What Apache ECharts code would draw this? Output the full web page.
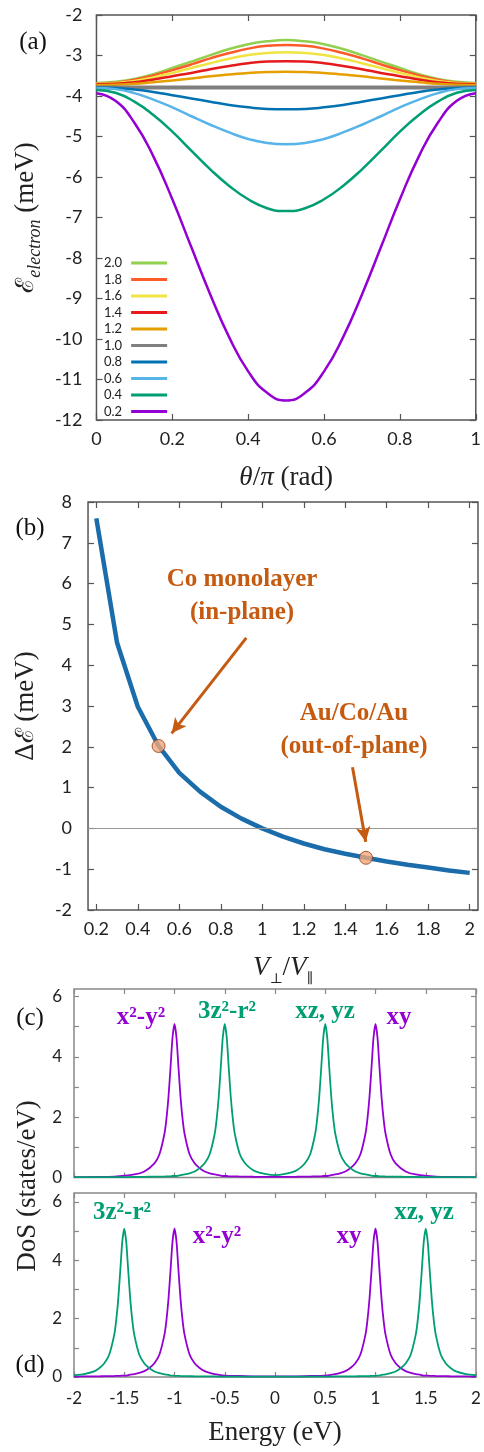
<!DOCTYPE html>
<html>
<head>
<meta charset="utf-8">
<script src="https://cdn.jsdelivr.net/npm/echarts@6/dist/echarts.min.js"></script>
<style>
    html, body {margin: 0; padding: 0; background: #fff;}
    #chart {width: 484px; height: 1452px;}
</style>
</head>
<body>
<div id="chart"></div>
<script>
// (a) electron energy vs theta/pi, one curve per V_perp/V_par ratio
var thetaPi = [0, 0.05, 0.1, 0.15, 0.2, 0.25, 0.3, 0.35, 0.4, 0.45, 0.5, 0.55, 0.6, 0.65, 0.7, 0.75, 0.8, 0.85, 0.9, 0.95, 1];
var e20 = [-3.68, -3.65, -3.58, -3.46, -3.31, -3.15, -2.99, -2.84, -2.72, -2.65, -2.62, -2.65, -2.72, -2.84, -2.99, -3.15, -3.31, -3.46, -3.58, -3.65, -3.68];
var e18 = [-3.69, -3.67, -3.60, -3.49, -3.36, -3.22, -3.07, -2.94, -2.83, -2.76, -2.74, -2.76, -2.83, -2.94, -3.07, -3.22, -3.36, -3.49, -3.60, -3.67, -3.69];
var e16 = [-3.70, -3.68, -3.63, -3.54, -3.43, -3.31, -3.19, -3.08, -2.99, -2.94, -2.92, -2.94, -2.99, -3.08, -3.19, -3.31, -3.43, -3.54, -3.63, -3.68, -3.70];
var e14 = [-3.71, -3.70, -3.66, -3.59, -3.51, -3.43, -3.34, -3.26, -3.19, -3.15, -3.14, -3.15, -3.19, -3.26, -3.34, -3.43, -3.51, -3.59, -3.66, -3.70, -3.71];
var e12 = [-3.73, -3.72, -3.70, -3.66, -3.62, -3.57, -3.51, -3.47, -3.43, -3.41, -3.40, -3.41, -3.43, -3.47, -3.51, -3.57, -3.62, -3.66, -3.70, -3.72, -3.73];
var e10 = [-3.79, -3.79, -3.79, -3.79, -3.79, -3.79, -3.79, -3.79, -3.79, -3.79, -3.79, -3.79, -3.79, -3.79, -3.79, -3.79, -3.79, -3.79, -3.79, -3.79, -3.79];
var e08 = [-3.79, -3.80, -3.84, -3.90, -3.98, -4.06, -4.14, -4.22, -4.28, -4.32, -4.33, -4.32, -4.28, -4.22, -4.14, -4.06, -3.98, -3.90, -3.84, -3.80, -3.79];
var e06 = [-3.80, -3.83, -3.93, -4.09, -4.28, -4.50, -4.71, -4.90, -5.06, -5.16, -5.19, -5.16, -5.06, -4.90, -4.71, -4.50, -4.28, -4.09, -3.93, -3.83, -3.80];
var e04 = [-3.85, -3.92, -4.14, -4.47, -4.88, -5.35, -5.81, -6.22, -6.55, -6.77, -6.84, -6.77, -6.55, -6.22, -5.81, -5.35, -4.88, -4.47, -4.14, -3.92, -3.85];
var e02 = [-3.93, -4.12, -4.66, -5.49, -6.55, -7.73, -8.90, -9.96, -10.80, -11.33, -11.52, -11.33, -10.80, -9.96, -8.90, -7.73, -6.55, -5.49, -4.66, -4.12, -3.93];
var ratioNames = ['2.0', '1.8', '1.6', '1.4', '1.2', '1.0', '0.8', '0.6', '0.4', '0.2'];

// (b) energy difference vs V_perp/V_par
var vRatio = [0.2, 0.3, 0.4, 0.5, 0.6, 0.7, 0.8, 0.9, 1.0, 1.1, 1.2, 1.3, 1.4, 1.5, 1.6, 1.7, 1.8, 1.9, 2.0];
var deltaE = [7.6, 4.55, 2.98, 2.02, 1.36, 0.9, 0.53, 0.24, 0.0, -0.2, -0.37, -0.51, -0.62, -0.72, -0.81, -0.89, -0.96, -1.03, -1.09];
var markedRatio = [0.5, 1.5];
var markedDelta = [2.02, -0.72];

// (c) density of states
var energyC = [-2.0, -1.8, -1.6, -1.4, -1.3, -1.2, -1.15, -1.1, -1.08, -1.06, -1.04, -1.02, -1.0, -0.98, -0.96, -0.94, -0.92, -0.9, -0.85, -0.8, -0.75, -0.7, -0.65, -0.6, -0.58, -0.56, -0.54, -0.52, -0.5, -0.48, -0.46, -0.44, -0.42, -0.4, -0.35, -0.3, -0.25, -0.2, -0.1,
    0, 0.1, 0.2, 0.25, 0.3, 0.35, 0.4, 0.42, 0.44, 0.46, 0.48, 0.5, 0.52, 0.54, 0.56, 0.58, 0.6, 0.65, 0.7, 0.75, 0.8, 0.85, 0.9, 0.92, 0.94, 0.96, 0.98, 1.0, 1.02, 1.04, 1.06, 1.08, 1.1, 1.15, 1.2, 1.3, 1.4, 1.6, 1.8, 2.0];
var dosCPurple = [0.01, 0.02, 0.03, 0.10, 0.20, 0.47, 0.77, 1.45, 1.95, 2.67, 3.63, 4.63, 5.09, 4.63, 3.63, 2.67, 1.95, 1.45, 0.77, 0.47, 0.31, 0.20, 0.14, 0.10, 0.09, 0.08, 0.06, 0.05, 0.05, 0.05, 0.04, 0.04, 0.04, 0.04, 0.03, 0.03, 0.03, 0.02, 0.02,
    0.02, 0.02, 0.02, 0.03, 0.03, 0.03, 0.04, 0.04, 0.04, 0.04, 0.05, 0.05, 0.05, 0.06, 0.08, 0.09, 0.10, 0.14, 0.20, 0.31, 0.47, 0.77, 1.45, 1.95, 2.67, 3.63, 4.63, 5.09, 4.63, 3.63, 2.67, 1.95, 1.45, 0.77, 0.47, 0.20, 0.10, 0.03, 0.02, 0.01];
var dosCGreen = [0.01, 0.01, 0.01, 0.02, 0.02, 0.03, 0.03, 0.03, 0.04, 0.04, 0.04, 0.05, 0.05, 0.05, 0.06, 0.08, 0.09, 0.10, 0.14, 0.20, 0.31, 0.47, 0.77, 1.45, 1.95, 2.67, 3.63, 4.63, 5.09, 4.63, 3.63, 2.67, 1.95, 1.45, 0.77, 0.48, 0.32, 0.21, 0.12,
    0.08, 0.12, 0.21, 0.32, 0.48, 0.77, 1.45, 1.95, 2.67, 3.63, 4.63, 5.09, 4.63, 3.63, 2.67, 1.95, 1.45, 0.77, 0.47, 0.31, 0.20, 0.14, 0.10, 0.09, 0.08, 0.06, 0.05, 0.05, 0.05, 0.04, 0.04, 0.04, 0.03, 0.03, 0.03, 0.02, 0.02, 0.01, 0.01, 0.01];

// (d) density of states
var energyD = [-2.0, -1.9, -1.8, -1.75, -1.7, -1.65, -1.6, -1.58, -1.56, -1.54, -1.52, -1.5, -1.48, -1.46, -1.44, -1.42, -1.4, -1.35, -1.3, -1.25, -1.2, -1.15, -1.1, -1.08, -1.06, -1.04, -1.02, -1.0, -0.98, -0.96, -0.94, -0.92, -0.9, -0.85, -0.8, -0.75, -0.7, -0.65, -0.6, -0.5, -0.4, -0.2,
    0, 0.2, 0.4, 0.5, 0.6, 0.65, 0.7, 0.75, 0.8, 0.85, 0.9, 0.92, 0.94, 0.96, 0.98, 1.0, 1.02, 1.04, 1.06, 1.08, 1.1, 1.15, 1.2, 1.25, 1.3, 1.35, 1.4, 1.42, 1.44, 1.46, 1.48, 1.5, 1.52, 1.54, 1.56, 1.58, 1.6, 1.65, 1.7, 1.75, 1.8, 1.9, 2.0];
var dosDPurple = [0.01, 0.02, 0.02, 0.02, 0.03, 0.03, 0.03, 0.04, 0.04, 0.04, 0.05, 0.05, 0.05, 0.06, 0.08, 0.09, 0.10, 0.14, 0.20, 0.31, 0.47, 0.77, 1.45, 1.95, 2.67, 3.63, 4.63, 5.09, 4.63, 3.63, 2.67, 1.95, 1.45, 0.77, 0.47, 0.31, 0.20, 0.14, 0.10, 0.05, 0.04, 0.02,
    0.02, 0.02, 0.04, 0.05, 0.10, 0.14, 0.20, 0.31, 0.47, 0.77, 1.45, 1.95, 2.67, 3.63, 4.63, 5.09, 4.63, 3.63, 2.67, 1.95, 1.45, 0.77, 0.47, 0.31, 0.20, 0.14, 0.10, 0.09, 0.08, 0.06, 0.05, 0.05, 0.05, 0.04, 0.04, 0.04, 0.03, 0.03, 0.03, 0.02, 0.02, 0.02, 0.01];
var dosDGreen = [0.06, 0.10, 0.19, 0.30, 0.46, 0.76, 1.44, 1.94, 2.66, 3.62, 4.62, 5.08, 4.62, 3.62, 2.66, 1.94, 1.44, 0.76, 0.46, 0.30, 0.19, 0.13, 0.09, 0.08, 0.07, 0.05, 0.05, 0.04, 0.04, 0.04, 0.03, 0.03, 0.03, 0.03, 0.02, 0.02, 0.02, 0.02, 0.02, 0.01, 0.01, 0.01,
    0.01, 0.01, 0.01, 0.01, 0.02, 0.02, 0.02, 0.02, 0.02, 0.03, 0.03, 0.03, 0.03, 0.04, 0.04, 0.04, 0.05, 0.05, 0.07, 0.08, 0.09, 0.13, 0.19, 0.30, 0.46, 0.76, 1.44, 1.94, 2.66, 3.62, 4.62, 5.08, 4.62, 3.62, 2.66, 1.94, 1.44, 0.76, 0.46, 0.30, 0.19, 0.10, 0.06];

var ticksB = [0.2, 0.4, 0.6, 0.8, 1, 1.2, 1.4, 1.6, 1.8, 2];
var ticksDos = [0, 1, 2, 3, 4, 5, 6];
var labelsDos = [0, 2, 4, 6];

var ratioColors = ['#92d050', '#ff5a2a', '#f0e442', '#e41a1c', '#e69f00', '#7f7f7f', '#0072b2', '#56b4e9', '#009e73', '#9400d3'];
var purple = '#9400d3';
var green = '#009e73';
var rust = '#c55a11';
var serif = 'Liberation Serif';
var sans = 'Lato';

function pairs(xs, ys) {
    return xs.map(function (x, i) { return [x, ys[i]]; });
}

function tick(color, len) {
    return {show: true, inside: true, length: len, lineStyle: {color: color, width: 1.2}};
}

// main axis with labels + mirror axis (ticks only) for gnuplot style frame
function axisPair(grid, dim, base) {
    var mainPos = dim === 'x' ? 'bottom' : 'left';
    var mirrorPos = dim === 'x' ? 'top' : 'right';
    var main = Object.assign({type: 'value', gridIndex: grid, position: mainPos,
        axisLine: {show: false, onZero: false}, splitLine: {show: false}}, base);
    var mirror = Object.assign({}, base, {type: 'value', gridIndex: grid, position: mirrorPos,
        axisLine: {show: false, onZero: false}, splitLine: {show: false}, axisLabel: {show: false}, name: ''});
    return [main, mirror];
}

var labA = {fontFamily: sans, fontSize: 18, color: '#222'};
var labC = {fontFamily: sans, fontSize: 17, color: '#222'};
var nameRich = {
    s: {fontFamily: 'DejaVu Serif', fontSize: 25, lineHeight: 36},
    i: {fontFamily: serif, fontStyle: 'italic', fontSize: 27, lineHeight: 36},
    sub: {fontFamily: serif, fontStyle: 'italic', fontSize: 18, lineHeight: 18, verticalAlign: 'bottom'},
    subu: {fontFamily: 'DejaVu Serif', fontSize: 14, lineHeight: 18, verticalAlign: 'bottom'}
};
var nameStyle = {fontFamily: serif, fontSize: 27, color: '#222', lineHeight: 36, rich: nameRich};

var xAxes = [].concat(
    axisPair(0, 'x', {min: 0, max: 1, interval: 0.2, axisTick: tick('#555', 6),
        axisLabel: Object.assign({margin: 10}, labA),
        name: '{i|θ}/{i|π} (rad)', nameLocation: 'middle', nameGap: 40, nameTextStyle: nameStyle}),
    axisPair(1, 'x', {min: 0.16, max: 2.04,
        axisTick: Object.assign(tick('#555', 6), {customValues: ticksB}),
        axisLabel: Object.assign({margin: 10, customValues: ticksB}, labA),
        name: '{i|V}{subu|⊥}/{i|V}{subu|∥}', nameLocation: 'middle', nameGap: 40, nameTextStyle: nameStyle}),
    axisPair(2, 'x', {min: -2, max: 2, interval: 0.5, axisTick: tick('#888', 5),
        axisLabel: {show: false}}),
    axisPair(3, 'x', {min: -2, max: 2, interval: 0.5, axisTick: tick('#888', 5),
        axisLabel: Object.assign({margin: 13}, labC),
        name: 'Energy (eV)', nameLocation: 'middle', nameGap: 38, nameTextStyle: nameStyle})
);

var yAxes = [].concat(
    axisPair(0, 'y', {min: -12, max: -2, interval: 1, axisTick: tick('#555', 6),
        axisLabel: Object.assign({margin: 14}, labA),
        name: '{s|ℰ}{sub|electron} (meV)', nameLocation: 'middle', nameGap: 42, nameRotate: 90, nameTextStyle: nameStyle}),
    axisPair(1, 'y', {min: -2, max: 8, interval: 1, axisTick: tick('#555', 6),
        axisLabel: Object.assign({margin: 16}, labA),
        name: 'Δ{s|ℰ} (meV)', nameLocation: 'middle', nameGap: 33, nameRotate: 90, nameTextStyle: nameStyle}),
    axisPair(2, 'y', {min: 0, max: 6.25,
        axisTick: Object.assign(tick('#888', 5), {customValues: ticksDos}),
        axisLabel: Object.assign({margin: 12, customValues: labelsDos}, labC)}),
    axisPair(3, 'y', {min: 0, max: 6.3,
        axisTick: Object.assign(tick('#888', 5), {customValues: ticksDos}),
        axisLabel: Object.assign({margin: 12, customValues: labelsDos}, labC)})
);

var energyCurves = [e20, e18, e16, e14, e12, e10, e08, e06, e04, e02];
var seriesA = energyCurves.map(function (vals, i) {
    return {
        name: ratioNames[i],
        type: 'line',
        xAxisIndex: 0,
        yAxisIndex: 0,
        smooth: true,
        symbol: 'none',
        lineStyle: {color: ratioColors[i], width: ratioNames[i] === '1.0' ? 4 : 2.5},
        itemStyle: {color: ratioColors[i]},
        data: pairs(thetaPi, vals)
    };
});

function dosLine(name, axis, xs, ys, color) {
    return {
        name: name, type: 'line', xAxisIndex: axis, yAxisIndex: axis,
        symbol: 'none', smooth: 0.2,
        lineStyle: {color: color, width: 1.8},
        itemStyle: {color: color},
        data: pairs(xs, ys)
    };
}

function label(text, x, y, color, size) {
    return {
        type: 'text', x: x, y: y, z: 100,
        style: {text: text, fill: color, font: 'bold ' + size + 'px "' + serif + '"',
            textAlign: 'center', textVerticalAlign: 'middle', lineHeight: 33}
    };
}

function panelTag(text, x, y) {
    return {
        type: 'text', x: x, y: y,
        style: {text: text, fill: '#111', font: '25px "' + serif + '"',
            textAlign: 'center', textVerticalAlign: 'middle'}
    };
}

var myChart = echarts.init(document.getElementById('chart'));

var option = {
    animation: false,
    backgroundColor: '#fff',
    grid: [
        {left: 89, right: 4, top: 15, height: 405, show: true, borderColor: '#555', borderWidth: 1.5},
        {left: 78, right: 6, top: 502, height: 408, show: true, borderColor: '#555', borderWidth: 1.5},
        {left: 74, right: 8, top: 989, height: 188.5, show: true, borderColor: '#888', borderWidth: 1.5},
        {left: 74, right: 8, top: 1193, height: 190, show: true, borderColor: '#888', borderWidth: 1.5}
    ],
    legend: {
        left: 99, top: 250, orient: 'vertical', align: 'right',
        icon: 'rect', itemWidth: 36, itemHeight: 3, itemGap: 0.5,
        textStyle: {fontFamily: sans, fontSize: 13, color: '#222', lineHeight: 16, padding: [0, 4, 0, 0]},
        data: ratioNames
    },
    xAxis: xAxes,
    yAxis: yAxes,
    series: seriesA.concat([
        {
            name: 'zero', type: 'line', xAxisIndex: 2, yAxisIndex: 2, data: [], z: 1,
            markLine: {silent: true, symbol: 'none', label: {show: false},
                lineStyle: {color: '#999', width: 1.2, type: 'solid'},
                data: [{yAxis: 0}]}
        },
        {
            name: 'deltaE', type: 'line', xAxisIndex: 2, yAxisIndex: 2, z: 3,
            symbol: 'none',
            lineStyle: {color: '#1b6cab', width: 4.5},
            itemStyle: {color: '#1b6cab'},
            data: pairs(vRatio, deltaE),
            markLine: {
                silent: true, symbol: ['none', 'arrow'], symbolSize: [11, 15],
                label: {show: false},
                lineStyle: {color: rust, width: 3, type: 'solid'},
                data: [
                    [{coord: [0.923, 4.67]}, {coord: [0.563, 2.33]}],
                    [{coord: [1.435, 1.50]}, {coord: [1.499, -0.33]}]
                ]
            }
        },
        {
            name: 'marked', type: 'scatter', xAxisIndex: 2, yAxisIndex: 2, z: 5,
            symbolSize: 13,
            itemStyle: {color: '#f4a77c', borderColor: '#8a3b12', borderWidth: 1},
            data: pairs(markedRatio, markedDelta)
        },
        dosLine('c-purple', 4, energyC, dosCPurple, purple),
        dosLine('c-green', 4, energyC, dosCGreen, green),
        dosLine('d-purple', 6, energyD, dosDPurple, purple),
        dosLine('d-green', 6, energyD, dosDGreen, green)
    ]),
    graphic: [
        panelTag('(a)', 33, 42),
        panelTag('(b)', 30, 528),
        panelTag('(c)', 30, 1018),
        panelTag('(d)', 30, 1365),
        label('Co monolayer\n(in-plane)', 242, 596, rust, 25),
        label('Au/Co/Au\n(out-of-plane)', 354, 730, rust, 25),
        label('x²-y²', 141, 1018, purple, 25),
        label('3z²-r²', 227, 1012, green, 25),
        label('xz, yz', 325, 1012, green, 25),
        label('xy', 399, 1018, purple, 25),
        label('3z²-r²', 122, 1213, green, 25),
        label('x²-y²', 217, 1237, purple, 25),
        label('xy', 349, 1237, purple, 25),
        label('xz, yz', 424, 1213, green, 25),
        {
            type: 'text', x: 28, y: 1186, rotation: Math.PI / 2,
            style: {text: 'DoS (states/eV)', fill: '#222', font: '27px "' + serif + '"',
                textAlign: 'center', textVerticalAlign: 'middle'}
        }
    ]
};

myChart.setOption(option);
window.addEventListener('resize', function () {
    myChart.resize();
});
</script>
</body>
</html>
